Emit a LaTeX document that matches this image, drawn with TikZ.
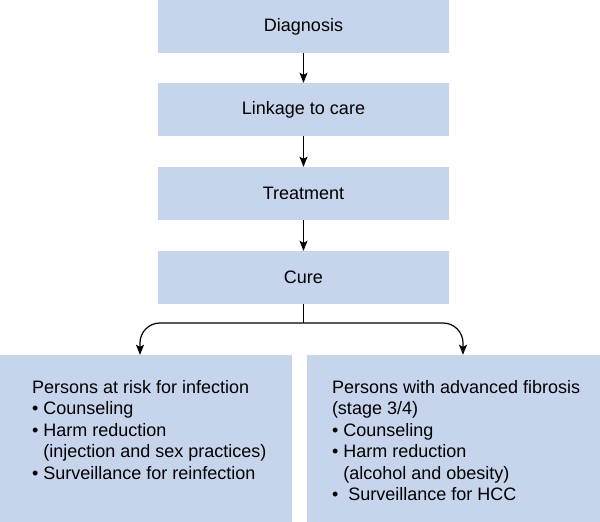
\documentclass[tikz,border=0pt]{standalone}
\usepackage{fontspec}
\setmainfont{Liberation Sans}
\usetikzlibrary{arrows.meta}
\definecolor{boxblue}{HTML}{C6D4EC}
\begin{document}
\begin{tikzpicture}[x=1pt,y=1pt,font=\fontsize{18}{21.5}\selectfont,
  stepbox/.style={rectangle,fill=boxblue,minimum width=291pt,minimum height=53pt,inner sep=0pt},
  groupbox/.style={rectangle,fill=boxblue,minimum height=167pt,inner sep=0pt},
  grouptext/.style={align=left,inner sep=0pt,anchor=north west},
  link/.style={line width=1.2pt,-{Stealth[length=10pt,width=8pt,inset=2pt]}}]
\useasboundingbox (0,0) rectangle (600,522);
\node[stepbox] (diag) at (303.5,495.5) {Diagnosis};
\node[stepbox] (link) at (303.5,412.5) {Linkage to care};
\node[stepbox] (treat) at (303.5,328.5) {Treatment};
\node[stepbox] (cure) at (303.5,244.5) {Cure};
\node[groupbox,minimum width=292pt] (risk) at (146,83.5) {};
\node[groupbox,minimum width=293pt] (fib) at (453.5,83.5) {};
\node[grouptext] (risktext) at ([xshift=32pt,yshift=-25pt]risk.north west) {Persons at risk for infection\\
  • Counseling\\
  • Harm reduction\\
  \hphantom{•} (injection and sex practices)\\
  • Surveillance for reinfection};
\node[grouptext] (fibtext) at ([xshift=25pt,yshift=-25pt]fib.north west) {Persons with advanced fibrosis\\
  (stage 3/4)\\
  • Counseling\\
  • Harm reduction\\
  \hphantom{•} (alcohol and obesity)\\
  •\ \ Surveillance for HCC};
\coordinate (split) at (303.5,199);
\draw[link] (diag) -- (link);
\draw[link] (link) -- (treat);
\draw[link] (treat) -- (cure);
\draw[line width=1.2pt] (cure.south) -- (split);
\draw[link,rounded corners=20pt] (split) -| ([xshift=-6pt]risk.north);
\draw[link,rounded corners=20pt] (split) -| ([xshift=9.5pt]fib.north);
\end{tikzpicture}
\end{document}
